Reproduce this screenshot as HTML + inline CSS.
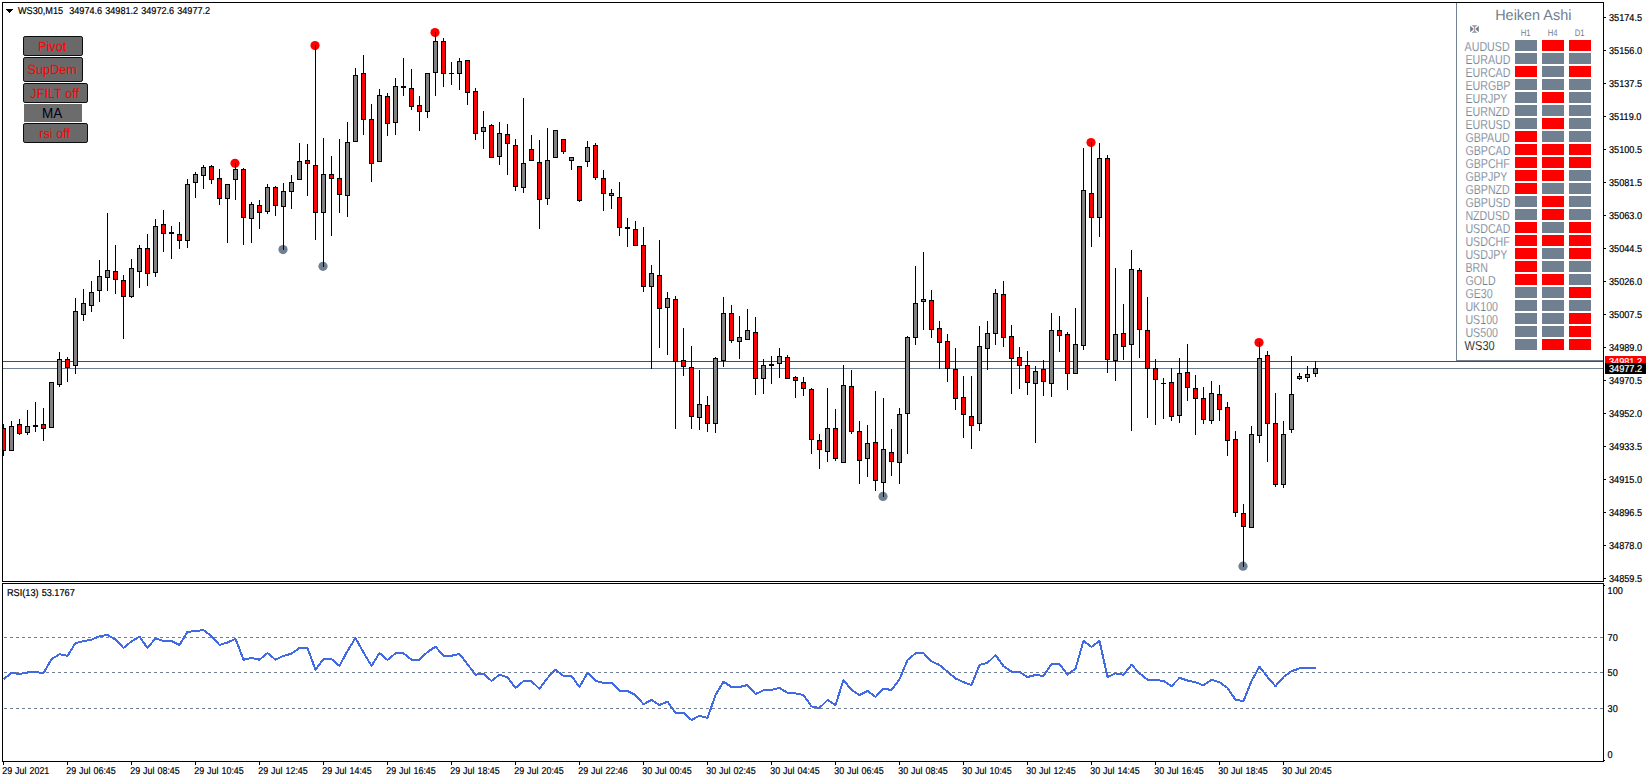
<!DOCTYPE html>
<html><head><meta charset="utf-8"><title>WS30,M15</title>
<style>
html,body{margin:0;padding:0;background:#fff}
body{width:1649px;height:782px;overflow:hidden;position:relative;font-family:"Liberation Sans",sans-serif}
svg{position:absolute;left:0;top:0;display:block}
text{font-family:"Liberation Sans",sans-serif;text-rendering:geometricPrecision}
.ax{font-size:10px;fill:#000;word-spacing:0.6px;stroke:#000;stroke-width:0.2px}
.pr{font-size:13px;fill:#708090;stroke:#fff;stroke-width:0.18px}
.bt{font-size:12.7px;fill:#ff0000;text-anchor:middle}
</style></head><body>
<svg width="1649" height="782" viewBox="0 0 1649 782">
<rect x="0" y="0" width="1649" height="782" fill="#fff"/>
<g shape-rendering="crispEdges">
<rect x="3" y="361" width="1600" height="1" fill="#ff0000"/>
<rect x="3" y="368" width="1600" height="1" fill="#708090"/>
</g>
<circle cx="235" cy="163.3" r="4.6" fill="#ff0000"/>
<circle cx="315" cy="45.5" r="4.6" fill="#ff0000"/>
<circle cx="435" cy="32.5" r="4.6" fill="#ff0000"/>
<circle cx="1091" cy="142.5" r="4.6" fill="#ff0000"/>
<circle cx="1259" cy="342.5" r="4.6" fill="#ff0000"/>
<circle cx="283" cy="249.6" r="4.6" fill="#708090"/>
<circle cx="323" cy="266.3" r="4.6" fill="#708090"/>
<circle cx="883" cy="496.4" r="4.6" fill="#708090"/>
<circle cx="1243" cy="566.2" r="4.6" fill="#708090"/>
<g shape-rendering="crispEdges">
<path fill="#000" d="M3 424h1v32h-1zM3 428h3v23h-3zM11 421h1v30h-1zM9 426h5v25h-5zM19 419h1v16h-1zM17 424h5v10h-5zM27 410h1v25h-1zM25 426h5v7h-5zM35 402h1v30h-1zM33 425h5v2h-5zM43 408h1v33h-1zM41 424h5v5h-5zM51 382h1v46h-1zM49 382h5v46h-5zM59 352h1v35h-1zM57 359h5v26h-5zM67 357h1v25h-1zM65 359h5v9h-5zM75 298h1v76h-1zM73 311h5v55h-5zM83 289h1v32h-1zM81 303h5v12h-5zM91 281h1v31h-1zM89 292h5v14h-5zM99 260h1v42h-1zM97 276h5v15h-5zM107 213h1v78h-1zM105 270h5v8h-5zM115 245h1v49h-1zM113 271h5v9h-5zM123 275h1v64h-1zM121 280h5v17h-5zM131 259h1v39h-1zM129 268h5v29h-5zM139 245h1v43h-1zM137 248h5v24h-5zM147 234h1v52h-1zM145 248h5v26h-5zM155 219h1v58h-1zM153 226h5v47h-5zM163 210h1v42h-1zM161 224h5v10h-5zM171 226h1v33h-1zM169 232h5v2h-5zM179 222h1v27h-1zM177 234h5v7h-5zM187 179h1v69h-1zM185 184h5v57h-5zM195 172h1v26h-1zM193 174h5v9h-5zM203 165h1v24h-1zM201 167h5v9h-5zM211 165h1v19h-1zM209 166h5v14h-5zM219 169h1v36h-1zM217 178h5v21h-5zM227 184h1v59h-1zM225 184h5v15h-5zM235 163h1v37h-1zM233 169h5v11h-5zM243 168h1v77h-1zM241 169h5v49h-5zM251 202h1v41h-1zM249 204h5v15h-5zM259 200h1v29h-1zM257 205h5v8h-5zM267 184h1v30h-1zM265 187h5v25h-5zM275 186h1v30h-1zM273 187h5v19h-5zM283 183h1v67h-1zM281 191h5v16h-5zM291 175h1v34h-1zM289 182h5v10h-5zM299 143h1v37h-1zM297 161h5v19h-5zM307 144h1v52h-1zM305 160h5v4h-5zM315 45h1v195h-1zM313 165h5v48h-5zM323 138h1v129h-1zM321 174h5v39h-5zM331 156h1v80h-1zM329 174h5v5h-5zM339 139h1v74h-1zM337 178h5v17h-5zM347 122h1v95h-1zM345 142h5v54h-5zM355 68h1v74h-1zM353 75h5v67h-5zM363 55h1v80h-1zM361 73h5v47h-5zM371 104h1v78h-1zM369 119h5v45h-5zM379 89h1v73h-1zM377 95h5v67h-5zM387 93h1v43h-1zM385 96h5v28h-5zM395 78h1v57h-1zM393 86h5v37h-5zM403 58h1v38h-1zM401 86h5v2h-5zM411 69h1v41h-1zM409 88h5v19h-5zM419 96h1v35h-1zM417 105h5v7h-5zM427 73h1v45h-1zM425 73h5v39h-5zM435 32h1v64h-1zM433 41h5v32h-5zM443 38h1v49h-1zM441 41h5v33h-5zM451 62h1v23h-1zM449 73h5v1h-5zM459 58h1v32h-1zM457 61h5v13h-5zM467 60h1v45h-1zM465 60h5v33h-5zM475 88h1v52h-1zM473 91h5v43h-5zM483 111h1v38h-1zM481 127h5v5h-5zM491 124h1v34h-1zM489 125h5v33h-5zM499 122h1v43h-1zM497 133h5v24h-5zM507 124h1v51h-1zM505 134h5v10h-5zM515 139h1v52h-1zM513 145h5v42h-5zM523 98h1v95h-1zM521 163h5v25h-5zM531 135h1v26h-1zM529 149h5v12h-5zM539 140h1v89h-1zM537 162h5v38h-5zM547 128h1v77h-1zM545 160h5v39h-5zM555 130h1v28h-1zM553 130h5v28h-5zM563 139h1v15h-1zM561 139h5v13h-5zM571 157h1v13h-1zM569 157h5v4h-5zM579 166h1v36h-1zM577 166h5v35h-5zM587 141h1v26h-1zM585 147h5v15h-5zM595 143h1v37h-1zM593 145h5v33h-5zM603 170h1v41h-1zM601 178h5v16h-5zM611 189h1v20h-1zM609 193h5v3h-5zM619 182h1v54h-1zM617 197h5v31h-5zM627 218h1v29h-1zM625 227h5v2h-5zM635 221h1v25h-1zM633 229h5v17h-5zM643 227h1v65h-1zM641 245h5v42h-5zM651 265h1v104h-1zM649 273h5v14h-5zM659 240h1v108h-1zM657 275h5v34h-5zM667 292h1v63h-1zM665 298h5v10h-5zM675 296h1v133h-1zM673 299h5v63h-5zM683 328h1v48h-1zM681 360h5v7h-5zM691 346h1v83h-1zM689 367h5v50h-5zM699 370h1v60h-1zM697 404h5v14h-5zM707 396h1v36h-1zM705 405h5v19h-5zM715 357h1v76h-1zM713 358h5v66h-5zM723 297h1v70h-1zM721 313h5v48h-5zM731 305h1v38h-1zM729 313h5v28h-5zM739 316h1v43h-1zM737 337h5v5h-5zM747 309h1v31h-1zM745 330h5v10h-5zM755 317h1v78h-1zM753 332h5v47h-5zM763 359h1v35h-1zM761 365h5v14h-5zM771 356h1v28h-1zM769 364h5v2h-5zM779 348h1v30h-1zM777 356h5v8h-5zM787 355h1v24h-1zM785 357h5v22h-5zM795 376h1v22h-1zM793 377h5v4h-5zM803 377h1v19h-1zM801 382h5v7h-5zM811 388h1v66h-1zM809 389h5v51h-5zM819 434h1v35h-1zM817 440h5v10h-5zM827 388h1v74h-1zM825 428h5v24h-5zM835 409h1v52h-1zM833 428h5v31h-5zM843 365h1v98h-1zM841 385h5v78h-5zM851 370h1v64h-1zM849 386h5v46h-5zM859 421h1v63h-1zM857 431h5v30h-5zM867 425h1v52h-1zM865 443h5v16h-5zM875 391h1v100h-1zM873 442h5v39h-5zM883 398h1v99h-1zM881 449h5v34h-5zM891 429h1v47h-1zM889 452h5v10h-5zM899 408h1v76h-1zM897 414h5v49h-5zM907 336h1v118h-1zM905 337h5v77h-5zM915 266h1v79h-1zM913 303h5v35h-5zM923 252h1v78h-1zM921 299h5v3h-5zM931 290h1v48h-1zM929 300h5v30h-5zM939 321h1v48h-1zM937 328h5v15h-5zM947 334h1v48h-1zM945 341h5v28h-5zM955 348h1v62h-1zM953 369h5v30h-5zM963 376h1v62h-1zM961 397h5v18h-5zM971 376h1v73h-1zM969 416h5v10h-5zM979 326h1v105h-1zM977 346h5v78h-5zM987 321h1v49h-1zM985 333h5v16h-5zM995 289h1v56h-1zM993 293h5v41h-5zM1003 281h1v66h-1zM1001 294h5v44h-5zM1011 325h1v69h-1zM1009 336h5v23h-5zM1019 347h1v42h-1zM1017 357h5v9h-5zM1027 351h1v44h-1zM1025 365h5v18h-5zM1035 366h1v77h-1zM1033 371h5v13h-5zM1043 360h1v36h-1zM1041 369h5v13h-5zM1051 313h1v84h-1zM1049 330h5v54h-5zM1059 316h1v36h-1zM1057 330h5v6h-5zM1067 332h1v58h-1zM1065 334h5v40h-5zM1075 308h1v66h-1zM1073 344h5v30h-5zM1083 148h1v202h-1zM1081 190h5v156h-5zM1091 142h1v105h-1zM1089 193h5v25h-5zM1099 143h1v94h-1zM1097 158h5v60h-5zM1107 155h1v218h-1zM1105 158h5v202h-5zM1115 268h1v113h-1zM1113 334h5v27h-5zM1123 304h1v56h-1zM1121 333h5v14h-5zM1131 250h1v181h-1zM1129 269h5v76h-5zM1139 268h1v90h-1zM1137 270h5v60h-5zM1147 297h1v121h-1zM1145 330h5v39h-5zM1155 359h1v66h-1zM1153 368h5v12h-5zM1163 378h1v41h-1zM1161 383h5v1h-5zM1171 368h1v53h-1zM1169 382h5v35h-5zM1179 358h1v65h-1zM1177 373h5v43h-5zM1187 344h1v57h-1zM1185 372h5v16h-5zM1195 375h1v60h-1zM1193 388h5v11h-5zM1203 387h1v37h-1zM1201 398h5v22h-5zM1211 381h1v43h-1zM1209 393h5v28h-5zM1219 385h1v36h-1zM1217 394h5v16h-5zM1227 402h1v54h-1zM1225 407h5v34h-5zM1235 431h1v86h-1zM1233 439h5v74h-5zM1243 504h1v63h-1zM1241 513h5v14h-5zM1251 426h1v102h-1zM1249 434h5v94h-5zM1259 342h1v101h-1zM1257 358h5v78h-5zM1267 351h1v111h-1zM1265 355h5v69h-5zM1275 393h1v94h-1zM1273 423h5v62h-5zM1283 421h1v67h-1zM1281 434h5v51h-5zM1291 356h1v77h-1zM1289 394h5v36h-5zM1299 373h1v7h-1zM1297 376h5v3h-5zM1307 366h1v16h-1zM1305 374h5v4h-5zM1315 361h1v16h-1zM1313 368h5v6h-5z"/>
<path fill="#ff0000" d="M3 429h2v21h-2zM18 425h3v8h-3zM42 425h3v3h-3zM66 360h3v7h-3zM114 272h3v7h-3zM122 281h3v15h-3zM146 249h3v24h-3zM162 225h3v8h-3zM178 235h3v5h-3zM210 167h3v12h-3zM218 179h3v19h-3zM242 170h3v47h-3zM258 206h3v6h-3zM274 188h3v17h-3zM306 161h3v2h-3zM314 166h3v46h-3zM330 175h3v3h-3zM338 179h3v15h-3zM362 74h3v45h-3zM370 120h3v43h-3zM386 97h3v26h-3zM410 89h3v17h-3zM418 106h3v5h-3zM442 42h3v31h-3zM466 61h3v31h-3zM474 92h3v41h-3zM490 126h3v31h-3zM506 135h3v8h-3zM514 146h3v40h-3zM530 150h3v10h-3zM538 163h3v36h-3zM562 140h3v11h-3zM578 167h3v33h-3zM594 146h3v31h-3zM602 179h3v14h-3zM618 198h3v29h-3zM634 230h3v15h-3zM642 246h3v40h-3zM658 276h3v32h-3zM674 300h3v61h-3zM682 361h3v5h-3zM690 368h3v48h-3zM706 406h3v17h-3zM730 314h3v26h-3zM754 333h3v45h-3zM786 358h3v20h-3zM794 378h3v2h-3zM802 383h3v5h-3zM810 390h3v49h-3zM818 441h3v8h-3zM834 429h3v29h-3zM850 387h3v44h-3zM858 432h3v28h-3zM874 443h3v37h-3zM890 453h3v8h-3zM930 301h3v28h-3zM938 329h3v13h-3zM946 342h3v26h-3zM954 370h3v28h-3zM962 398h3v16h-3zM970 417h3v8h-3zM1002 295h3v42h-3zM1010 337h3v21h-3zM1018 358h3v7h-3zM1026 366h3v16h-3zM1042 370h3v11h-3zM1058 331h3v4h-3zM1066 335h3v38h-3zM1090 194h3v23h-3zM1106 159h3v200h-3zM1122 334h3v12h-3zM1138 271h3v58h-3zM1146 331h3v37h-3zM1154 369h3v10h-3zM1170 383h3v33h-3zM1186 373h3v14h-3zM1194 389h3v9h-3zM1202 399h3v20h-3zM1218 395h3v14h-3zM1226 408h3v32h-3zM1234 440h3v72h-3zM1242 514h3v12h-3zM1266 356h3v67h-3zM1274 424h3v60h-3z"/>
<path fill="#808080" d="M10 427h3v23h-3zM26 427h3v5h-3zM50 383h3v44h-3zM58 360h3v24h-3zM74 312h3v53h-3zM82 304h3v10h-3zM90 293h3v12h-3zM98 277h3v13h-3zM106 271h3v6h-3zM130 269h3v27h-3zM138 249h3v22h-3zM154 227h3v45h-3zM186 185h3v55h-3zM194 175h3v7h-3zM202 168h3v7h-3zM226 185h3v13h-3zM234 170h3v9h-3zM250 205h3v13h-3zM266 188h3v23h-3zM282 192h3v14h-3zM290 183h3v8h-3zM298 162h3v17h-3zM322 175h3v37h-3zM346 143h3v52h-3zM354 76h3v65h-3zM378 96h3v65h-3zM394 87h3v35h-3zM426 74h3v37h-3zM434 42h3v30h-3zM458 62h3v11h-3zM482 128h3v3h-3zM498 134h3v22h-3zM522 164h3v23h-3zM546 161h3v37h-3zM554 131h3v26h-3zM570 158h3v2h-3zM586 148h3v13h-3zM610 194h3v1h-3zM650 274h3v12h-3zM666 299h3v8h-3zM698 405h3v12h-3zM714 359h3v64h-3zM722 314h3v46h-3zM738 338h3v3h-3zM746 331h3v8h-3zM762 366h3v12h-3zM778 357h3v6h-3zM826 429h3v22h-3zM842 386h3v76h-3zM866 444h3v14h-3zM882 450h3v32h-3zM898 415h3v47h-3zM906 338h3v75h-3zM914 304h3v33h-3zM922 300h3v1h-3zM978 347h3v76h-3zM986 334h3v14h-3zM994 294h3v39h-3zM1034 372h3v11h-3zM1050 331h3v52h-3zM1074 345h3v28h-3zM1082 191h3v154h-3zM1098 159h3v58h-3zM1114 335h3v25h-3zM1130 270h3v74h-3zM1178 374h3v41h-3zM1210 394h3v26h-3zM1250 435h3v92h-3zM1258 359h3v76h-3zM1282 435h3v49h-3zM1290 395h3v34h-3zM1298 377h3v1h-3zM1306 375h3v2h-3zM1314 369h3v4h-3z"/>
<rect x="2" y="2" width="1602" height="1" fill="#000"/>
<rect x="2" y="2" width="1" height="760" fill="#000"/>
<rect x="1603" y="2" width="1" height="760" fill="#000"/>
<rect x="2" y="581" width="1602" height="1" fill="#000"/>
<rect x="2" y="582" width="1602" height="1" fill="#fff"/>
<rect x="2" y="583" width="1602" height="1" fill="#000"/>
<rect x="2" y="761" width="1602" height="1" fill="#000"/>
<rect x="1604" y="17" width="2" height="1" fill="#000"/>
<rect x="1604" y="50" width="2" height="1" fill="#000"/>
<rect x="1604" y="83" width="2" height="1" fill="#000"/>
<rect x="1604" y="116" width="2" height="1" fill="#000"/>
<rect x="1604" y="149" width="2" height="1" fill="#000"/>
<rect x="1604" y="182" width="2" height="1" fill="#000"/>
<rect x="1604" y="215" width="2" height="1" fill="#000"/>
<rect x="1604" y="248" width="2" height="1" fill="#000"/>
<rect x="1604" y="281" width="2" height="1" fill="#000"/>
<rect x="1604" y="314" width="2" height="1" fill="#000"/>
<rect x="1604" y="347" width="2" height="1" fill="#000"/>
<rect x="1604" y="380" width="2" height="1" fill="#000"/>
<rect x="1604" y="413" width="2" height="1" fill="#000"/>
<rect x="1604" y="446" width="2" height="1" fill="#000"/>
<rect x="1604" y="479" width="2" height="1" fill="#000"/>
<rect x="1604" y="512" width="2" height="1" fill="#000"/>
<rect x="1604" y="545" width="2" height="1" fill="#000"/>
<rect x="1604" y="578" width="2" height="1" fill="#000"/>
<path fill="#708090" d="M4 637h3v1h-3zM10 637h3v1h-3zM16 637h3v1h-3zM22 637h3v1h-3zM28 637h3v1h-3zM34 637h3v1h-3zM40 637h3v1h-3zM46 637h3v1h-3zM52 637h3v1h-3zM58 637h3v1h-3zM64 637h3v1h-3zM70 637h3v1h-3zM76 637h3v1h-3zM82 637h3v1h-3zM88 637h3v1h-3zM94 637h3v1h-3zM100 637h3v1h-3zM106 637h3v1h-3zM112 637h3v1h-3zM118 637h3v1h-3zM124 637h3v1h-3zM130 637h3v1h-3zM136 637h3v1h-3zM142 637h3v1h-3zM148 637h3v1h-3zM154 637h3v1h-3zM160 637h3v1h-3zM166 637h3v1h-3zM172 637h3v1h-3zM178 637h3v1h-3zM184 637h3v1h-3zM190 637h3v1h-3zM196 637h3v1h-3zM202 637h3v1h-3zM208 637h3v1h-3zM214 637h3v1h-3zM220 637h3v1h-3zM226 637h3v1h-3zM232 637h3v1h-3zM238 637h3v1h-3zM244 637h3v1h-3zM250 637h3v1h-3zM256 637h3v1h-3zM262 637h3v1h-3zM268 637h3v1h-3zM274 637h3v1h-3zM280 637h3v1h-3zM286 637h3v1h-3zM292 637h3v1h-3zM298 637h3v1h-3zM304 637h3v1h-3zM310 637h3v1h-3zM316 637h3v1h-3zM322 637h3v1h-3zM328 637h3v1h-3zM334 637h3v1h-3zM340 637h3v1h-3zM346 637h3v1h-3zM352 637h3v1h-3zM358 637h3v1h-3zM364 637h3v1h-3zM370 637h3v1h-3zM376 637h3v1h-3zM382 637h3v1h-3zM388 637h3v1h-3zM394 637h3v1h-3zM400 637h3v1h-3zM406 637h3v1h-3zM412 637h3v1h-3zM418 637h3v1h-3zM424 637h3v1h-3zM430 637h3v1h-3zM436 637h3v1h-3zM442 637h3v1h-3zM448 637h3v1h-3zM454 637h3v1h-3zM460 637h3v1h-3zM466 637h3v1h-3zM472 637h3v1h-3zM478 637h3v1h-3zM484 637h3v1h-3zM490 637h3v1h-3zM496 637h3v1h-3zM502 637h3v1h-3zM508 637h3v1h-3zM514 637h3v1h-3zM520 637h3v1h-3zM526 637h3v1h-3zM532 637h3v1h-3zM538 637h3v1h-3zM544 637h3v1h-3zM550 637h3v1h-3zM556 637h3v1h-3zM562 637h3v1h-3zM568 637h3v1h-3zM574 637h3v1h-3zM580 637h3v1h-3zM586 637h3v1h-3zM592 637h3v1h-3zM598 637h3v1h-3zM604 637h3v1h-3zM610 637h3v1h-3zM616 637h3v1h-3zM622 637h3v1h-3zM628 637h3v1h-3zM634 637h3v1h-3zM640 637h3v1h-3zM646 637h3v1h-3zM652 637h3v1h-3zM658 637h3v1h-3zM664 637h3v1h-3zM670 637h3v1h-3zM676 637h3v1h-3zM682 637h3v1h-3zM688 637h3v1h-3zM694 637h3v1h-3zM700 637h3v1h-3zM706 637h3v1h-3zM712 637h3v1h-3zM718 637h3v1h-3zM724 637h3v1h-3zM730 637h3v1h-3zM736 637h3v1h-3zM742 637h3v1h-3zM748 637h3v1h-3zM754 637h3v1h-3zM760 637h3v1h-3zM766 637h3v1h-3zM772 637h3v1h-3zM778 637h3v1h-3zM784 637h3v1h-3zM790 637h3v1h-3zM796 637h3v1h-3zM802 637h3v1h-3zM808 637h3v1h-3zM814 637h3v1h-3zM820 637h3v1h-3zM826 637h3v1h-3zM832 637h3v1h-3zM838 637h3v1h-3zM844 637h3v1h-3zM850 637h3v1h-3zM856 637h3v1h-3zM862 637h3v1h-3zM868 637h3v1h-3zM874 637h3v1h-3zM880 637h3v1h-3zM886 637h3v1h-3zM892 637h3v1h-3zM898 637h3v1h-3zM904 637h3v1h-3zM910 637h3v1h-3zM916 637h3v1h-3zM922 637h3v1h-3zM928 637h3v1h-3zM934 637h3v1h-3zM940 637h3v1h-3zM946 637h3v1h-3zM952 637h3v1h-3zM958 637h3v1h-3zM964 637h3v1h-3zM970 637h3v1h-3zM976 637h3v1h-3zM982 637h3v1h-3zM988 637h3v1h-3zM994 637h3v1h-3zM1000 637h3v1h-3zM1006 637h3v1h-3zM1012 637h3v1h-3zM1018 637h3v1h-3zM1024 637h3v1h-3zM1030 637h3v1h-3zM1036 637h3v1h-3zM1042 637h3v1h-3zM1048 637h3v1h-3zM1054 637h3v1h-3zM1060 637h3v1h-3zM1066 637h3v1h-3zM1072 637h3v1h-3zM1078 637h3v1h-3zM1084 637h3v1h-3zM1090 637h3v1h-3zM1096 637h3v1h-3zM1102 637h3v1h-3zM1108 637h3v1h-3zM1114 637h3v1h-3zM1120 637h3v1h-3zM1126 637h3v1h-3zM1132 637h3v1h-3zM1138 637h3v1h-3zM1144 637h3v1h-3zM1150 637h3v1h-3zM1156 637h3v1h-3zM1162 637h3v1h-3zM1168 637h3v1h-3zM1174 637h3v1h-3zM1180 637h3v1h-3zM1186 637h3v1h-3zM1192 637h3v1h-3zM1198 637h3v1h-3zM1204 637h3v1h-3zM1210 637h3v1h-3zM1216 637h3v1h-3zM1222 637h3v1h-3zM1228 637h3v1h-3zM1234 637h3v1h-3zM1240 637h3v1h-3zM1246 637h3v1h-3zM1252 637h3v1h-3zM1258 637h3v1h-3zM1264 637h3v1h-3zM1270 637h3v1h-3zM1276 637h3v1h-3zM1282 637h3v1h-3zM1288 637h3v1h-3zM1294 637h3v1h-3zM1300 637h3v1h-3zM1306 637h3v1h-3zM1312 637h3v1h-3zM1318 637h3v1h-3zM1324 637h3v1h-3zM1330 637h3v1h-3zM1336 637h3v1h-3zM1342 637h3v1h-3zM1348 637h3v1h-3zM1354 637h3v1h-3zM1360 637h3v1h-3zM1366 637h3v1h-3zM1372 637h3v1h-3zM1378 637h3v1h-3zM1384 637h3v1h-3zM1390 637h3v1h-3zM1396 637h3v1h-3zM1402 637h3v1h-3zM1408 637h3v1h-3zM1414 637h3v1h-3zM1420 637h3v1h-3zM1426 637h3v1h-3zM1432 637h3v1h-3zM1438 637h3v1h-3zM1444 637h3v1h-3zM1450 637h3v1h-3zM1456 637h3v1h-3zM1462 637h3v1h-3zM1468 637h3v1h-3zM1474 637h3v1h-3zM1480 637h3v1h-3zM1486 637h3v1h-3zM1492 637h3v1h-3zM1498 637h3v1h-3zM1504 637h3v1h-3zM1510 637h3v1h-3zM1516 637h3v1h-3zM1522 637h3v1h-3zM1528 637h3v1h-3zM1534 637h3v1h-3zM1540 637h3v1h-3zM1546 637h3v1h-3zM1552 637h3v1h-3zM1558 637h3v1h-3zM1564 637h3v1h-3zM1570 637h3v1h-3zM1576 637h3v1h-3zM1582 637h3v1h-3zM1588 637h3v1h-3zM1594 637h3v1h-3zM1600 637h3v1h-3z"/>
<path fill="#708090" d="M4 672h3v1h-3zM10 672h3v1h-3zM16 672h3v1h-3zM22 672h3v1h-3zM28 672h3v1h-3zM34 672h3v1h-3zM40 672h3v1h-3zM46 672h3v1h-3zM52 672h3v1h-3zM58 672h3v1h-3zM64 672h3v1h-3zM70 672h3v1h-3zM76 672h3v1h-3zM82 672h3v1h-3zM88 672h3v1h-3zM94 672h3v1h-3zM100 672h3v1h-3zM106 672h3v1h-3zM112 672h3v1h-3zM118 672h3v1h-3zM124 672h3v1h-3zM130 672h3v1h-3zM136 672h3v1h-3zM142 672h3v1h-3zM148 672h3v1h-3zM154 672h3v1h-3zM160 672h3v1h-3zM166 672h3v1h-3zM172 672h3v1h-3zM178 672h3v1h-3zM184 672h3v1h-3zM190 672h3v1h-3zM196 672h3v1h-3zM202 672h3v1h-3zM208 672h3v1h-3zM214 672h3v1h-3zM220 672h3v1h-3zM226 672h3v1h-3zM232 672h3v1h-3zM238 672h3v1h-3zM244 672h3v1h-3zM250 672h3v1h-3zM256 672h3v1h-3zM262 672h3v1h-3zM268 672h3v1h-3zM274 672h3v1h-3zM280 672h3v1h-3zM286 672h3v1h-3zM292 672h3v1h-3zM298 672h3v1h-3zM304 672h3v1h-3zM310 672h3v1h-3zM316 672h3v1h-3zM322 672h3v1h-3zM328 672h3v1h-3zM334 672h3v1h-3zM340 672h3v1h-3zM346 672h3v1h-3zM352 672h3v1h-3zM358 672h3v1h-3zM364 672h3v1h-3zM370 672h3v1h-3zM376 672h3v1h-3zM382 672h3v1h-3zM388 672h3v1h-3zM394 672h3v1h-3zM400 672h3v1h-3zM406 672h3v1h-3zM412 672h3v1h-3zM418 672h3v1h-3zM424 672h3v1h-3zM430 672h3v1h-3zM436 672h3v1h-3zM442 672h3v1h-3zM448 672h3v1h-3zM454 672h3v1h-3zM460 672h3v1h-3zM466 672h3v1h-3zM472 672h3v1h-3zM478 672h3v1h-3zM484 672h3v1h-3zM490 672h3v1h-3zM496 672h3v1h-3zM502 672h3v1h-3zM508 672h3v1h-3zM514 672h3v1h-3zM520 672h3v1h-3zM526 672h3v1h-3zM532 672h3v1h-3zM538 672h3v1h-3zM544 672h3v1h-3zM550 672h3v1h-3zM556 672h3v1h-3zM562 672h3v1h-3zM568 672h3v1h-3zM574 672h3v1h-3zM580 672h3v1h-3zM586 672h3v1h-3zM592 672h3v1h-3zM598 672h3v1h-3zM604 672h3v1h-3zM610 672h3v1h-3zM616 672h3v1h-3zM622 672h3v1h-3zM628 672h3v1h-3zM634 672h3v1h-3zM640 672h3v1h-3zM646 672h3v1h-3zM652 672h3v1h-3zM658 672h3v1h-3zM664 672h3v1h-3zM670 672h3v1h-3zM676 672h3v1h-3zM682 672h3v1h-3zM688 672h3v1h-3zM694 672h3v1h-3zM700 672h3v1h-3zM706 672h3v1h-3zM712 672h3v1h-3zM718 672h3v1h-3zM724 672h3v1h-3zM730 672h3v1h-3zM736 672h3v1h-3zM742 672h3v1h-3zM748 672h3v1h-3zM754 672h3v1h-3zM760 672h3v1h-3zM766 672h3v1h-3zM772 672h3v1h-3zM778 672h3v1h-3zM784 672h3v1h-3zM790 672h3v1h-3zM796 672h3v1h-3zM802 672h3v1h-3zM808 672h3v1h-3zM814 672h3v1h-3zM820 672h3v1h-3zM826 672h3v1h-3zM832 672h3v1h-3zM838 672h3v1h-3zM844 672h3v1h-3zM850 672h3v1h-3zM856 672h3v1h-3zM862 672h3v1h-3zM868 672h3v1h-3zM874 672h3v1h-3zM880 672h3v1h-3zM886 672h3v1h-3zM892 672h3v1h-3zM898 672h3v1h-3zM904 672h3v1h-3zM910 672h3v1h-3zM916 672h3v1h-3zM922 672h3v1h-3zM928 672h3v1h-3zM934 672h3v1h-3zM940 672h3v1h-3zM946 672h3v1h-3zM952 672h3v1h-3zM958 672h3v1h-3zM964 672h3v1h-3zM970 672h3v1h-3zM976 672h3v1h-3zM982 672h3v1h-3zM988 672h3v1h-3zM994 672h3v1h-3zM1000 672h3v1h-3zM1006 672h3v1h-3zM1012 672h3v1h-3zM1018 672h3v1h-3zM1024 672h3v1h-3zM1030 672h3v1h-3zM1036 672h3v1h-3zM1042 672h3v1h-3zM1048 672h3v1h-3zM1054 672h3v1h-3zM1060 672h3v1h-3zM1066 672h3v1h-3zM1072 672h3v1h-3zM1078 672h3v1h-3zM1084 672h3v1h-3zM1090 672h3v1h-3zM1096 672h3v1h-3zM1102 672h3v1h-3zM1108 672h3v1h-3zM1114 672h3v1h-3zM1120 672h3v1h-3zM1126 672h3v1h-3zM1132 672h3v1h-3zM1138 672h3v1h-3zM1144 672h3v1h-3zM1150 672h3v1h-3zM1156 672h3v1h-3zM1162 672h3v1h-3zM1168 672h3v1h-3zM1174 672h3v1h-3zM1180 672h3v1h-3zM1186 672h3v1h-3zM1192 672h3v1h-3zM1198 672h3v1h-3zM1204 672h3v1h-3zM1210 672h3v1h-3zM1216 672h3v1h-3zM1222 672h3v1h-3zM1228 672h3v1h-3zM1234 672h3v1h-3zM1240 672h3v1h-3zM1246 672h3v1h-3zM1252 672h3v1h-3zM1258 672h3v1h-3zM1264 672h3v1h-3zM1270 672h3v1h-3zM1276 672h3v1h-3zM1282 672h3v1h-3zM1288 672h3v1h-3zM1294 672h3v1h-3zM1300 672h3v1h-3zM1306 672h3v1h-3zM1312 672h3v1h-3zM1318 672h3v1h-3zM1324 672h3v1h-3zM1330 672h3v1h-3zM1336 672h3v1h-3zM1342 672h3v1h-3zM1348 672h3v1h-3zM1354 672h3v1h-3zM1360 672h3v1h-3zM1366 672h3v1h-3zM1372 672h3v1h-3zM1378 672h3v1h-3zM1384 672h3v1h-3zM1390 672h3v1h-3zM1396 672h3v1h-3zM1402 672h3v1h-3zM1408 672h3v1h-3zM1414 672h3v1h-3zM1420 672h3v1h-3zM1426 672h3v1h-3zM1432 672h3v1h-3zM1438 672h3v1h-3zM1444 672h3v1h-3zM1450 672h3v1h-3zM1456 672h3v1h-3zM1462 672h3v1h-3zM1468 672h3v1h-3zM1474 672h3v1h-3zM1480 672h3v1h-3zM1486 672h3v1h-3zM1492 672h3v1h-3zM1498 672h3v1h-3zM1504 672h3v1h-3zM1510 672h3v1h-3zM1516 672h3v1h-3zM1522 672h3v1h-3zM1528 672h3v1h-3zM1534 672h3v1h-3zM1540 672h3v1h-3zM1546 672h3v1h-3zM1552 672h3v1h-3zM1558 672h3v1h-3zM1564 672h3v1h-3zM1570 672h3v1h-3zM1576 672h3v1h-3zM1582 672h3v1h-3zM1588 672h3v1h-3zM1594 672h3v1h-3zM1600 672h3v1h-3z"/>
<path fill="#708090" d="M4 708h3v1h-3zM10 708h3v1h-3zM16 708h3v1h-3zM22 708h3v1h-3zM28 708h3v1h-3zM34 708h3v1h-3zM40 708h3v1h-3zM46 708h3v1h-3zM52 708h3v1h-3zM58 708h3v1h-3zM64 708h3v1h-3zM70 708h3v1h-3zM76 708h3v1h-3zM82 708h3v1h-3zM88 708h3v1h-3zM94 708h3v1h-3zM100 708h3v1h-3zM106 708h3v1h-3zM112 708h3v1h-3zM118 708h3v1h-3zM124 708h3v1h-3zM130 708h3v1h-3zM136 708h3v1h-3zM142 708h3v1h-3zM148 708h3v1h-3zM154 708h3v1h-3zM160 708h3v1h-3zM166 708h3v1h-3zM172 708h3v1h-3zM178 708h3v1h-3zM184 708h3v1h-3zM190 708h3v1h-3zM196 708h3v1h-3zM202 708h3v1h-3zM208 708h3v1h-3zM214 708h3v1h-3zM220 708h3v1h-3zM226 708h3v1h-3zM232 708h3v1h-3zM238 708h3v1h-3zM244 708h3v1h-3zM250 708h3v1h-3zM256 708h3v1h-3zM262 708h3v1h-3zM268 708h3v1h-3zM274 708h3v1h-3zM280 708h3v1h-3zM286 708h3v1h-3zM292 708h3v1h-3zM298 708h3v1h-3zM304 708h3v1h-3zM310 708h3v1h-3zM316 708h3v1h-3zM322 708h3v1h-3zM328 708h3v1h-3zM334 708h3v1h-3zM340 708h3v1h-3zM346 708h3v1h-3zM352 708h3v1h-3zM358 708h3v1h-3zM364 708h3v1h-3zM370 708h3v1h-3zM376 708h3v1h-3zM382 708h3v1h-3zM388 708h3v1h-3zM394 708h3v1h-3zM400 708h3v1h-3zM406 708h3v1h-3zM412 708h3v1h-3zM418 708h3v1h-3zM424 708h3v1h-3zM430 708h3v1h-3zM436 708h3v1h-3zM442 708h3v1h-3zM448 708h3v1h-3zM454 708h3v1h-3zM460 708h3v1h-3zM466 708h3v1h-3zM472 708h3v1h-3zM478 708h3v1h-3zM484 708h3v1h-3zM490 708h3v1h-3zM496 708h3v1h-3zM502 708h3v1h-3zM508 708h3v1h-3zM514 708h3v1h-3zM520 708h3v1h-3zM526 708h3v1h-3zM532 708h3v1h-3zM538 708h3v1h-3zM544 708h3v1h-3zM550 708h3v1h-3zM556 708h3v1h-3zM562 708h3v1h-3zM568 708h3v1h-3zM574 708h3v1h-3zM580 708h3v1h-3zM586 708h3v1h-3zM592 708h3v1h-3zM598 708h3v1h-3zM604 708h3v1h-3zM610 708h3v1h-3zM616 708h3v1h-3zM622 708h3v1h-3zM628 708h3v1h-3zM634 708h3v1h-3zM640 708h3v1h-3zM646 708h3v1h-3zM652 708h3v1h-3zM658 708h3v1h-3zM664 708h3v1h-3zM670 708h3v1h-3zM676 708h3v1h-3zM682 708h3v1h-3zM688 708h3v1h-3zM694 708h3v1h-3zM700 708h3v1h-3zM706 708h3v1h-3zM712 708h3v1h-3zM718 708h3v1h-3zM724 708h3v1h-3zM730 708h3v1h-3zM736 708h3v1h-3zM742 708h3v1h-3zM748 708h3v1h-3zM754 708h3v1h-3zM760 708h3v1h-3zM766 708h3v1h-3zM772 708h3v1h-3zM778 708h3v1h-3zM784 708h3v1h-3zM790 708h3v1h-3zM796 708h3v1h-3zM802 708h3v1h-3zM808 708h3v1h-3zM814 708h3v1h-3zM820 708h3v1h-3zM826 708h3v1h-3zM832 708h3v1h-3zM838 708h3v1h-3zM844 708h3v1h-3zM850 708h3v1h-3zM856 708h3v1h-3zM862 708h3v1h-3zM868 708h3v1h-3zM874 708h3v1h-3zM880 708h3v1h-3zM886 708h3v1h-3zM892 708h3v1h-3zM898 708h3v1h-3zM904 708h3v1h-3zM910 708h3v1h-3zM916 708h3v1h-3zM922 708h3v1h-3zM928 708h3v1h-3zM934 708h3v1h-3zM940 708h3v1h-3zM946 708h3v1h-3zM952 708h3v1h-3zM958 708h3v1h-3zM964 708h3v1h-3zM970 708h3v1h-3zM976 708h3v1h-3zM982 708h3v1h-3zM988 708h3v1h-3zM994 708h3v1h-3zM1000 708h3v1h-3zM1006 708h3v1h-3zM1012 708h3v1h-3zM1018 708h3v1h-3zM1024 708h3v1h-3zM1030 708h3v1h-3zM1036 708h3v1h-3zM1042 708h3v1h-3zM1048 708h3v1h-3zM1054 708h3v1h-3zM1060 708h3v1h-3zM1066 708h3v1h-3zM1072 708h3v1h-3zM1078 708h3v1h-3zM1084 708h3v1h-3zM1090 708h3v1h-3zM1096 708h3v1h-3zM1102 708h3v1h-3zM1108 708h3v1h-3zM1114 708h3v1h-3zM1120 708h3v1h-3zM1126 708h3v1h-3zM1132 708h3v1h-3zM1138 708h3v1h-3zM1144 708h3v1h-3zM1150 708h3v1h-3zM1156 708h3v1h-3zM1162 708h3v1h-3zM1168 708h3v1h-3zM1174 708h3v1h-3zM1180 708h3v1h-3zM1186 708h3v1h-3zM1192 708h3v1h-3zM1198 708h3v1h-3zM1204 708h3v1h-3zM1210 708h3v1h-3zM1216 708h3v1h-3zM1222 708h3v1h-3zM1228 708h3v1h-3zM1234 708h3v1h-3zM1240 708h3v1h-3zM1246 708h3v1h-3zM1252 708h3v1h-3zM1258 708h3v1h-3zM1264 708h3v1h-3zM1270 708h3v1h-3zM1276 708h3v1h-3zM1282 708h3v1h-3zM1288 708h3v1h-3zM1294 708h3v1h-3zM1300 708h3v1h-3zM1306 708h3v1h-3zM1312 708h3v1h-3zM1318 708h3v1h-3zM1324 708h3v1h-3zM1330 708h3v1h-3zM1336 708h3v1h-3zM1342 708h3v1h-3zM1348 708h3v1h-3zM1354 708h3v1h-3zM1360 708h3v1h-3zM1366 708h3v1h-3zM1372 708h3v1h-3zM1378 708h3v1h-3zM1384 708h3v1h-3zM1390 708h3v1h-3zM1396 708h3v1h-3zM1402 708h3v1h-3zM1408 708h3v1h-3zM1414 708h3v1h-3zM1420 708h3v1h-3zM1426 708h3v1h-3zM1432 708h3v1h-3zM1438 708h3v1h-3zM1444 708h3v1h-3zM1450 708h3v1h-3zM1456 708h3v1h-3zM1462 708h3v1h-3zM1468 708h3v1h-3zM1474 708h3v1h-3zM1480 708h3v1h-3zM1486 708h3v1h-3zM1492 708h3v1h-3zM1498 708h3v1h-3zM1504 708h3v1h-3zM1510 708h3v1h-3zM1516 708h3v1h-3zM1522 708h3v1h-3zM1528 708h3v1h-3zM1534 708h3v1h-3zM1540 708h3v1h-3zM1546 708h3v1h-3zM1552 708h3v1h-3zM1558 708h3v1h-3zM1564 708h3v1h-3zM1570 708h3v1h-3zM1576 708h3v1h-3zM1582 708h3v1h-3zM1588 708h3v1h-3zM1594 708h3v1h-3zM1600 708h3v1h-3z"/>
<rect x="3" y="762" width="1" height="3" fill="#000"/>
<rect x="67" y="762" width="1" height="3" fill="#000"/>
<rect x="131" y="762" width="1" height="3" fill="#000"/>
<rect x="195" y="762" width="1" height="3" fill="#000"/>
<rect x="259" y="762" width="1" height="3" fill="#000"/>
<rect x="323" y="762" width="1" height="3" fill="#000"/>
<rect x="387" y="762" width="1" height="3" fill="#000"/>
<rect x="451" y="762" width="1" height="3" fill="#000"/>
<rect x="515" y="762" width="1" height="3" fill="#000"/>
<rect x="579" y="762" width="1" height="3" fill="#000"/>
<rect x="643" y="762" width="1" height="3" fill="#000"/>
<rect x="707" y="762" width="1" height="3" fill="#000"/>
<rect x="771" y="762" width="1" height="3" fill="#000"/>
<rect x="835" y="762" width="1" height="3" fill="#000"/>
<rect x="899" y="762" width="1" height="3" fill="#000"/>
<rect x="963" y="762" width="1" height="3" fill="#000"/>
<rect x="1027" y="762" width="1" height="3" fill="#000"/>
<rect x="1091" y="762" width="1" height="3" fill="#000"/>
<rect x="1155" y="762" width="1" height="3" fill="#000"/>
<rect x="1219" y="762" width="1" height="3" fill="#000"/>
<rect x="1283" y="762" width="1" height="3" fill="#000"/>
<rect x="1604" y="585" width="1" height="1" fill="#000"/>
<rect x="1604" y="760" width="1" height="1" fill="#000"/>
</g>
<polyline points="3.5,679.2 11.5,673.0 19.5,673.9 27.5,672.5 35.5,672.2 43.5,673.0 51.5,659.2 59.5,654.2 67.5,655.9 75.5,643.0 83.5,641.2 91.5,639.7 99.5,636.3 107.5,635.0 115.5,639.5 123.5,648.0 131.5,641.4 139.5,636.7 147.5,648.0 155.5,638.3 163.5,640.9 171.5,640.9 179.5,645.0 187.5,631.7 195.5,631.3 203.5,630.0 211.5,636.3 219.5,645.0 227.5,642.5 235.5,638.8 243.5,659.7 251.5,658.0 259.5,659.7 267.5,653.0 275.5,659.7 283.5,655.9 291.5,653.7 299.5,648.0 307.5,648.0 315.5,669.7 323.5,659.0 331.5,659.0 339.5,665.9 347.5,650.9 355.5,638.0 363.5,652.5 371.5,665.9 379.5,653.0 387.5,660.0 395.5,653.4 403.5,653.4 411.5,659.7 419.5,659.7 427.5,652.0 435.5,646.7 443.5,655.7 451.5,655.7 459.5,654.0 467.5,664.2 475.5,674.7 483.5,673.7 491.5,680.9 499.5,674.7 507.5,677.4 515.5,687.9 523.5,681.2 531.5,681.2 539.5,688.9 547.5,678.0 555.5,669.7 563.5,675.9 571.5,675.9 579.5,687.0 587.5,672.9 595.5,680.9 603.5,682.9 611.5,682.9 619.5,690.9 627.5,691.0 635.5,695.0 643.5,704.2 651.5,700.0 659.5,705.0 667.5,701.7 675.5,712.9 683.5,712.9 691.5,720.0 699.5,715.7 707.5,718.0 715.5,695.0 723.5,681.7 731.5,687.0 739.5,687.0 747.5,685.0 755.5,694.0 763.5,690.4 771.5,689.9 779.5,688.0 787.5,692.7 795.5,693.4 803.5,695.0 811.5,706.4 819.5,707.9 827.5,700.0 835.5,705.0 843.5,680.0 851.5,690.0 859.5,695.0 867.5,690.9 875.5,697.0 883.5,688.7 891.5,690.0 899.5,679.2 907.5,660.0 915.5,653.4 923.5,653.0 931.5,661.4 939.5,665.0 947.5,671.7 955.5,678.4 963.5,682.2 971.5,685.0 979.5,665.0 987.5,662.9 995.5,655.0 1003.5,666.2 1011.5,671.7 1019.5,672.0 1027.5,677.0 1035.5,675.0 1043.5,675.9 1051.5,663.9 1059.5,663.9 1067.5,674.7 1075.5,668.7 1083.5,640.9 1091.5,647.0 1099.5,640.9 1107.5,677.0 1115.5,673.4 1123.5,674.7 1131.5,664.7 1139.5,673.4 1147.5,679.7 1155.5,680.0 1163.5,680.9 1171.5,686.2 1179.5,677.9 1187.5,680.5 1195.5,682.2 1203.5,685.4 1211.5,679.7 1219.5,682.2 1227.5,687.9 1235.5,699.7 1243.5,701.2 1251.5,680.9 1259.5,666.7 1267.5,677.0 1275.5,686.2 1283.5,677.0 1291.5,671.2 1299.5,668.4 1307.5,668.0 1315.5,668.0" fill="none" stroke="#4169e1" stroke-width="2" stroke-linejoin="round" shape-rendering="crispEdges"/>
<text class="ax" transform="translate(1609 20.85) scale(0.9155 1)">35174.5</text>
<text class="ax" transform="translate(1609 53.85) scale(0.9155 1)">35156.0</text>
<text class="ax" transform="translate(1609 86.85) scale(0.9155 1)">35137.5</text>
<text class="ax" transform="translate(1609 119.85) scale(0.9155 1)">35119.0</text>
<text class="ax" transform="translate(1609 152.85) scale(0.9155 1)">35100.5</text>
<text class="ax" transform="translate(1609 185.85) scale(0.9155 1)">35081.5</text>
<text class="ax" transform="translate(1609 218.85) scale(0.9155 1)">35063.0</text>
<text class="ax" transform="translate(1609 251.85) scale(0.9155 1)">35044.5</text>
<text class="ax" transform="translate(1609 284.85) scale(0.9155 1)">35026.0</text>
<text class="ax" transform="translate(1609 317.85) scale(0.9155 1)">35007.5</text>
<text class="ax" transform="translate(1609 350.85) scale(0.9155 1)">34989.0</text>
<text class="ax" transform="translate(1609 383.85) scale(0.9155 1)">34970.5</text>
<text class="ax" transform="translate(1609 416.85) scale(0.9155 1)">34952.0</text>
<text class="ax" transform="translate(1609 449.85) scale(0.9155 1)">34933.5</text>
<text class="ax" transform="translate(1609 482.85) scale(0.9155 1)">34915.0</text>
<text class="ax" transform="translate(1609 515.85) scale(0.9155 1)">34896.5</text>
<text class="ax" transform="translate(1609 548.85) scale(0.9155 1)">34878.0</text>
<text class="ax" transform="translate(1609 581.85) scale(0.9155 1)">34859.5</text>
<g shape-rendering="crispEdges"><rect x="1605" y="356" width="41" height="11" fill="#ff0000"/><rect x="1605" y="363" width="41" height="11" fill="#000"/></g>
<text class="ax" transform="translate(1609 364.85) scale(0.9155 1)" style="fill:#fff;stroke:#fff">34981.2</text>
<g shape-rendering="crispEdges"><rect x="1605" y="363" width="41" height="11" fill="#000"/></g>
<text class="ax" transform="translate(1609 371.85) scale(0.9155 1)" style="fill:#fff;stroke:#fff">34977.2</text>
<text class="ax" transform="translate(1607.6 593.85) scale(0.9155 1)">100</text>
<text class="ax" transform="translate(1607.6 640.85) scale(0.9155 1)">70</text>
<text class="ax" transform="translate(1607.6 675.85) scale(0.9155 1)">50</text>
<text class="ax" transform="translate(1607.6 711.85) scale(0.9155 1)">30</text>
<text class="ax" transform="translate(1607.6 757.85) scale(0.9155 1)">0</text>
<text class="ax" transform="translate(7 595.85) scale(0.9155 1)">RSI(13) 53.1767</text>
<text class="ax" transform="translate(2.2 773.85) scale(0.89 1)">29 Jul 2021</text>
<text class="ax" transform="translate(66.2 773.85) scale(0.89 1)">29 Jul 06:45</text>
<text class="ax" transform="translate(130.2 773.85) scale(0.89 1)">29 Jul 08:45</text>
<text class="ax" transform="translate(194.2 773.85) scale(0.89 1)">29 Jul 10:45</text>
<text class="ax" transform="translate(258.2 773.85) scale(0.89 1)">29 Jul 12:45</text>
<text class="ax" transform="translate(322.2 773.85) scale(0.89 1)">29 Jul 14:45</text>
<text class="ax" transform="translate(386.2 773.85) scale(0.89 1)">29 Jul 16:45</text>
<text class="ax" transform="translate(450.2 773.85) scale(0.89 1)">29 Jul 18:45</text>
<text class="ax" transform="translate(514.2 773.85) scale(0.89 1)">29 Jul 20:45</text>
<text class="ax" transform="translate(578.2 773.85) scale(0.89 1)">29 Jul 22:46</text>
<text class="ax" transform="translate(642.2 773.85) scale(0.89 1)">30 Jul 00:45</text>
<text class="ax" transform="translate(706.2 773.85) scale(0.89 1)">30 Jul 02:45</text>
<text class="ax" transform="translate(770.2 773.85) scale(0.89 1)">30 Jul 04:45</text>
<text class="ax" transform="translate(834.2 773.85) scale(0.89 1)">30 Jul 06:45</text>
<text class="ax" transform="translate(898.2 773.85) scale(0.89 1)">30 Jul 08:45</text>
<text class="ax" transform="translate(962.2 773.85) scale(0.89 1)">30 Jul 10:45</text>
<text class="ax" transform="translate(1026.2 773.85) scale(0.89 1)">30 Jul 12:45</text>
<text class="ax" transform="translate(1090.2 773.85) scale(0.89 1)">30 Jul 14:45</text>
<text class="ax" transform="translate(1154.2 773.85) scale(0.89 1)">30 Jul 16:45</text>
<text class="ax" transform="translate(1218.2 773.85) scale(0.89 1)">30 Jul 18:45</text>
<text class="ax" transform="translate(1282.2 773.85) scale(0.89 1)">30 Jul 20:45</text>
<path shape-rendering="crispEdges" d="M6 9h7v1h-7zM7 10h5v1h-5zM8 11h3v1h-3zM9 12h1v1h-1z" fill="#000"/>
<text class="ax" transform="translate(18 13.85) scale(0.911 1)">WS30,M15&#160;&#160;34974.6 34981.2 34972.6 34977.2</text>
<rect x="23.5" y="36.5" width="59" height="19" rx="1.6" ry="1.6" fill="#696969" stroke="#0c0c0c" stroke-width="1"/>
<text transform="translate(52.2 50.9) scale(0.935 1)" style="font-size:13.6px;fill:#ff0000;text-anchor:middle">Pivot</text>
<rect x="23.5" y="57.5" width="59" height="24" rx="1.6" ry="1.6" fill="#696969" stroke="#0c0c0c" stroke-width="1"/>
<text transform="translate(52.2 74.4) scale(0.935 1)" style="font-size:13.6px;fill:#ff0000;text-anchor:middle">SupDem</text>
<rect x="23.5" y="83.5" width="64" height="19" rx="1.6" ry="1.6" fill="#696969" stroke="#0c0c0c" stroke-width="1"/>
<text transform="translate(54.7 97.9) scale(0.935 1)" style="font-size:13.6px;fill:#ff0000;text-anchor:middle">JFILT off</text>
<rect x="24" y="104" width="58" height="18" fill="#6c6c6c" shape-rendering="crispEdges"/>
<text transform="translate(52.2 117.9) scale(0.93 1)" style="font-size:14.5px;fill:#000018;text-anchor:middle">MA</text>
<rect x="23.5" y="123.5" width="64" height="19" rx="1.6" ry="1.6" fill="#696969" stroke="#0c0c0c" stroke-width="1"/>
<text transform="translate(54.7 137.9) scale(0.935 1)" style="font-size:13.6px;fill:#ff0000;text-anchor:middle">rsi off</text>
<g shape-rendering="crispEdges"><rect x="1456" y="3" width="147" height="358" fill="#fff"/><rect x="1456" y="3" width="1" height="358" fill="#708090"/><rect x="1456" y="360" width="147" height="1" fill="#708090"/></g>
<text transform="translate(1495.2 19.8) scale(0.975 1)" style="font-size:14.8px;fill:#708090">Heiken Ashi</text>
<text transform="translate(1525.7 36.1) scale(0.83 1)" style="font-size:9.3px;fill:#708090;text-anchor:middle">H1</text>
<text transform="translate(1552.7 36.1) scale(0.83 1)" style="font-size:9.3px;fill:#708090;text-anchor:middle">H4</text>
<text transform="translate(1579.7 36.1) scale(0.83 1)" style="font-size:9.3px;fill:#708090;text-anchor:middle">D1</text>
<g><path fill="#708090" d="M1470.2 25.8l3.6 3.2l-3.6 3.2z"/><path fill="#708090" d="M1478.8 25.8l-3.6 3.2l3.6 3.2z"/><path fill="#a3adb8" d="M1471.6 25h5.8l-2.9 3.2z"/><path fill="#a3adb8" d="M1471.6 33h5.8l-2.9 -3.2z"/><rect x="1474.2" y="26" width="0.7" height="6" fill="#b08090"/></g>
<text class="pr" transform="translate(1464.6 51.0) scale(0.82 1)">AUDUSD</text>
<text class="pr" transform="translate(1465.4 64.0) scale(0.82 1)">EURAUD</text>
<text class="pr" transform="translate(1465.4 77.0) scale(0.82 1)">EURCAD</text>
<text class="pr" transform="translate(1465.4 90.0) scale(0.82 1)">EURGBP</text>
<text class="pr" transform="translate(1465.4 103.0) scale(0.82 1)">EURJPY</text>
<text class="pr" transform="translate(1465.4 116.0) scale(0.82 1)">EURNZD</text>
<text class="pr" transform="translate(1465.4 129.0) scale(0.82 1)">EURUSD</text>
<text class="pr" transform="translate(1465.4 142.0) scale(0.82 1)">GBPAUD</text>
<text class="pr" transform="translate(1465.4 155.0) scale(0.82 1)">GBPCAD</text>
<text class="pr" transform="translate(1465.4 168.0) scale(0.82 1)">GBPCHF</text>
<text class="pr" transform="translate(1465.4 181.0) scale(0.82 1)">GBPJPY</text>
<text class="pr" transform="translate(1465.4 194.0) scale(0.82 1)">GBPNZD</text>
<text class="pr" transform="translate(1465.4 207.0) scale(0.82 1)">GBPUSD</text>
<text class="pr" transform="translate(1465.4 220.0) scale(0.82 1)">NZDUSD</text>
<text class="pr" transform="translate(1465.4 233.0) scale(0.82 1)">USDCAD</text>
<text class="pr" transform="translate(1465.4 246.0) scale(0.82 1)">USDCHF</text>
<text class="pr" transform="translate(1465.4 259.0) scale(0.82 1)">USDJPY</text>
<text class="pr" transform="translate(1465.4 272.0) scale(0.82 1)">BRN</text>
<text class="pr" transform="translate(1465.4 285.0) scale(0.82 1)">GOLD</text>
<text class="pr" transform="translate(1465.4 298.0) scale(0.82 1)">GE30</text>
<text class="pr" transform="translate(1465.4 311.0) scale(0.82 1)">UK100</text>
<text class="pr" transform="translate(1465.4 324.0) scale(0.82 1)">US100</text>
<text class="pr" transform="translate(1465.4 337.0) scale(0.82 1)">US500</text>
<text class="pr" transform="translate(1464.6 350.0) scale(0.85 1)" style="fill:#000">WS30</text>
<g shape-rendering="crispEdges"><path fill="#ff0000" d="M1542 40h22v11h-22zM1569 40h22v11h-22zM1515 66h22v11h-22zM1569 66h22v11h-22zM1542 92h22v11h-22zM1542 118h22v11h-22zM1515 131h22v11h-22zM1515 144h22v11h-22zM1542 144h22v11h-22zM1569 144h22v11h-22zM1515 157h22v11h-22zM1542 157h22v11h-22zM1569 157h22v11h-22zM1515 170h22v11h-22zM1542 170h22v11h-22zM1515 183h22v11h-22zM1542 196h22v11h-22zM1542 209h22v11h-22zM1515 222h22v11h-22zM1569 222h22v11h-22zM1515 235h22v11h-22zM1542 235h22v11h-22zM1569 235h22v11h-22zM1515 248h22v11h-22zM1569 248h22v11h-22zM1515 261h22v11h-22zM1515 274h22v11h-22zM1542 274h22v11h-22zM1569 287h22v11h-22zM1569 313h22v11h-22zM1569 326h22v11h-22zM1542 339h22v11h-22zM1569 339h22v11h-22z"/><path fill="#708090" d="M1515 40h22v11h-22zM1515 53h22v11h-22zM1542 53h22v11h-22zM1569 53h22v11h-22zM1542 66h22v11h-22zM1515 79h22v11h-22zM1542 79h22v11h-22zM1569 79h22v11h-22zM1515 92h22v11h-22zM1569 92h22v11h-22zM1515 105h22v11h-22zM1542 105h22v11h-22zM1569 105h22v11h-22zM1515 118h22v11h-22zM1569 118h22v11h-22zM1542 131h22v11h-22zM1569 131h22v11h-22zM1569 170h22v11h-22zM1542 183h22v11h-22zM1569 183h22v11h-22zM1515 196h22v11h-22zM1569 196h22v11h-22zM1515 209h22v11h-22zM1569 209h22v11h-22zM1542 222h22v11h-22zM1542 248h22v11h-22zM1542 261h22v11h-22zM1569 261h22v11h-22zM1569 274h22v11h-22zM1515 287h22v11h-22zM1542 287h22v11h-22zM1515 300h22v11h-22zM1542 300h22v11h-22zM1569 300h22v11h-22zM1515 313h22v11h-22zM1542 313h22v11h-22zM1515 326h22v11h-22zM1542 326h22v11h-22zM1515 339h22v11h-22z"/></g>
</svg>
</body></html>
